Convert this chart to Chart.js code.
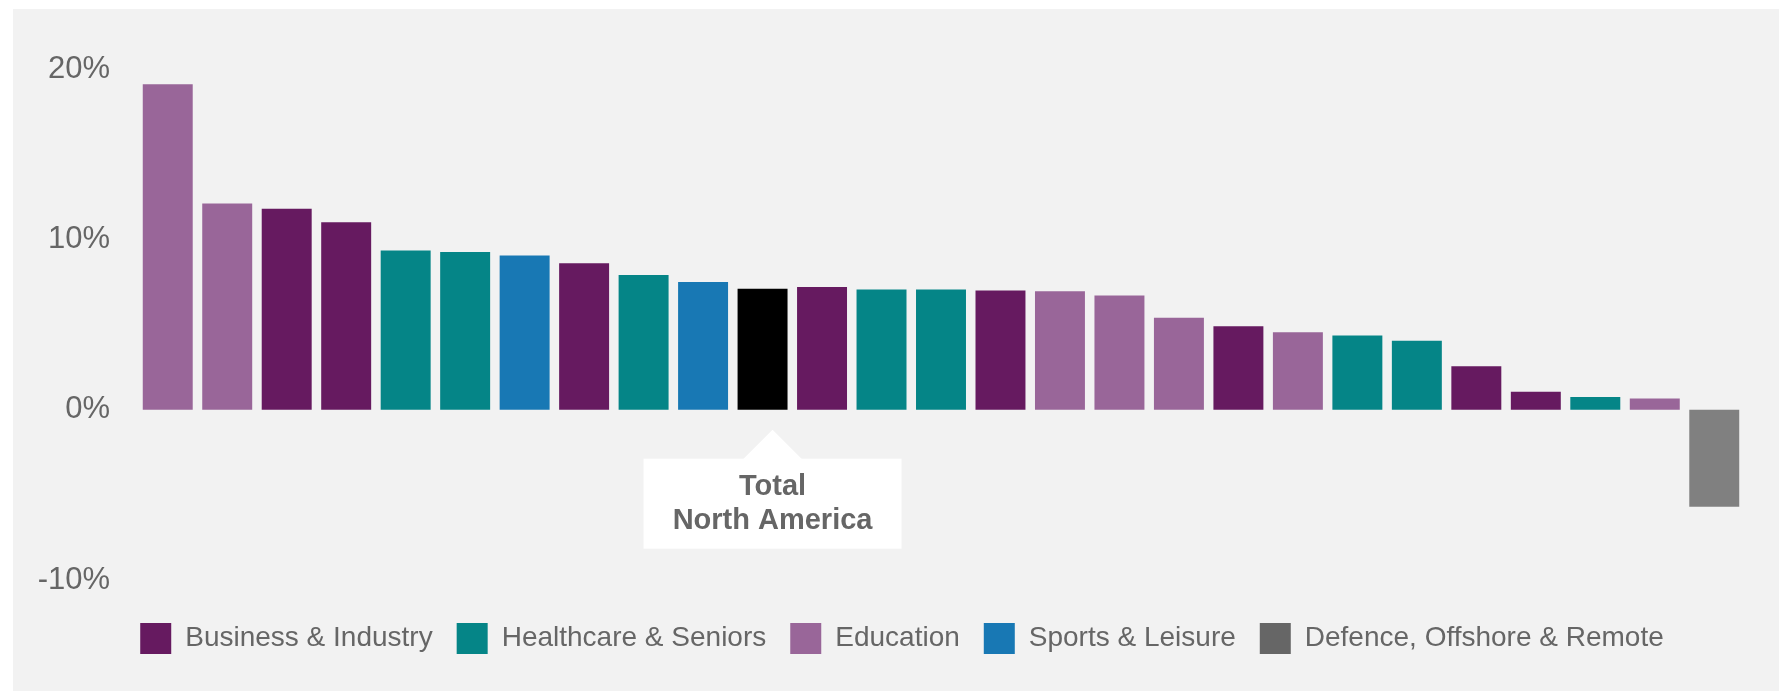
<!DOCTYPE html>
<html>
<head>
<meta charset="utf-8">
<script src="https://cdn.jsdelivr.net/npm/chart.js@4/dist/chart.umd.min.js"></script>
<style>
  body { margin: 0; background: #fff; }
  .panel { position: absolute; left: 13px; top: 9px; width: 1766px; height: 682px; background: #f2f2f2; }
</style>
</head>
<body>
<div class="panel"><canvas id="myChart"></canvas></div>
<script>
// segment of each bar, left to right
var segments = ['Education', 'Education', 'Business & Industry', 'Business & Industry',
  'Healthcare & Seniors', 'Healthcare & Seniors', 'Sports & Leisure', 'Business & Industry',
  'Healthcare & Seniors', 'Sports & Leisure', 'Total', 'Business & Industry',
  'Healthcare & Seniors', 'Healthcare & Seniors', 'Business & Industry', 'Education',
  'Education', 'Education', 'Business & Industry', 'Education', 'Healthcare & Seniors',
  'Healthcare & Seniors', 'Business & Industry', 'Business & Industry', 'Healthcare & Seniors',
  'Education', 'Defence, Offshore & Remote'];
// growth, %
var growth = [19.1, 12.1, 11.8, 11.0, 9.35, 9.25, 9.05, 8.6, 7.9, 7.5, 7.1, 7.2,
  7.05, 7.05, 7.0, 6.95, 6.7, 5.4, 4.9, 4.55, 4.35, 4.05, 2.55, 1.05, 0.75, 0.65, -5.7];
var legendNames = ['Business & Industry', 'Healthcare & Seniors', 'Education', 'Sports & Leisure', 'Defence, Offshore & Remote'];
var yTicks = [-10, 0, 10, 20];

var barColours = {
  'Business & Industry': '#661a60',
  'Healthcare & Seniors': '#058587',
  'Education': '#996699',
  'Sports & Leisure': '#1878b4',
  'Total': '#000000',
  'Defence, Offshore & Remote': '#808080'
};
var legendColours = Object.assign({}, barColours, { 'Defence, Offshore & Remote': '#666666' });

var totalIndex = segments.indexOf('Total');

// white callout under the total bar
var callout = {
  id: 'callout',
  afterDatasetsDraw: function (chart) {
    var ctx = chart.ctx;
    var cx = chart.scales.x.getPixelForValue(totalIndex) + 10;
    var y0 = chart.scales.y.getPixelForValue(0);
    var top = y0 + 49, w = 258, h = 90;
    ctx.save();
    ctx.fillStyle = '#ffffff';
    ctx.fillRect(cx - w / 2, top, w, h);
    ctx.beginPath();
    ctx.moveTo(cx - 30, top + 1);
    ctx.lineTo(cx, y0 + 20);
    ctx.lineTo(cx + 30, top + 1);
    ctx.closePath();
    ctx.fill();
    ctx.fillStyle = '#666666';
    ctx.font = 'bold 29px "Liberation Sans", Arial, sans-serif';
    ctx.textAlign = 'center';
    ctx.textBaseline = 'middle';
    ctx.fillText('Total', cx, top + 28);
    ctx.fillText('North America', cx, top + 62);
    ctx.restore();
  }
};

// legend sits a bit right of centre in the original
var legendShift = {
  id: 'legendShift',
  afterLayout: function (chart) {
    chart.legend.left += 17;
    chart.legend.right += 17;
  }
};

var data = {
  labels: segments,
  datasets: [{
    data: growth,
    backgroundColor: segments.map(function (s) { return barColours[s]; }),
    barPercentage: 0.84,
    categoryPercentage: 1
  }]
};

let config = {
  type: 'bar',
  data,
  options: {
    responsive: false,
    animation: false,
    layout: { padding: { left: 13, right: 35, top: 60, bottom: 27 } },
    plugins: {
      tooltip: { enabled: false },
      legend: {
        position: 'bottom',
        labels: {
          boxWidth: 31,
          boxHeight: 31,
          padding: 24,
          color: '#666666',
          font: { family: '"Liberation Sans", Arial, sans-serif', size: 28 },
          generateLabels: function () {
            return legendNames.map(function (n) {
              return { text: n, fillStyle: legendColours[n], strokeStyle: legendColours[n], lineWidth: 0, fontColor: '#666666' };
            });
          }
        }
      }
    },
    scales: {
      x: {
        display: true,
        grid: { display: false, drawTicks: false },
        border: { display: false },
        ticks: { display: false },
        afterFit: function (s) { s.height = 19; }
      },
      y: {
        min: -10,
        max: 20,
        afterBuildTicks: function (s) { s.ticks = yTicks.map(function (v) { return { value: v }; }); },
        afterFit: function (s) { s.width = 112; },
        grid: { display: false, drawTicks: false },
        border: { display: false },
        ticks: {
          padding: 28,
          color: '#666666',
          font: { family: '"Liberation Sans", Arial, sans-serif', size: 31 },
          callback: function (v) { return v + '%'; }
        }
      }
    }
  },
  plugins: [callout, legendShift]
};

var canvas = document.getElementById('myChart');
canvas.width = 1766;
canvas.height = 682;
var myChart = new Chart(canvas, config);
</script>
</body>
</html>
